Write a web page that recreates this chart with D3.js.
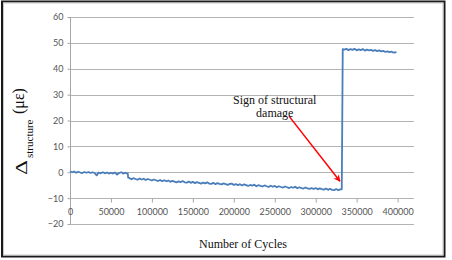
<!DOCTYPE html>
<html><head><meta charset="utf-8">
<script src="https://cdn.jsdelivr.net/npm/d3@7/dist/d3.min.js"></script>
<style>body{margin:0;background:#fff}svg{display:block}</style>
</head><body>
<svg id="c" width="452" height="260"></svg>
<script>
const cycles = [0,2500,5000,7500,10000,12500,15000,17500,20000,22500,25000,27500,30000,32500,35000,37500,40000,42500,45000,47500,50000,52500,55000,57500,60000,62500,65000,67500,70000,70500,71000,
72500,75000,77500,80000,82500,85000,87500,90000,92500,95000,97500,100000,102500,105000,107500,110000,112500,115000,117500,120000,122500,125000,127500,130000,132500,135000,137500,140000,142500,145000,147500,150000,152500,155000,157500,160000,162500,165000,167500,170000,172500,175000,177500,180000,182500,185000,187500,190000,192500,195000,197500,200000,202500,205000,207500,210000,212500,215000,217500,220000,222500,225000,227500,230000,232500,235000,237500,240000,242500,245000,247500,250000,252500,255000,257500,260000,262500,265000,267500,270000,272500,275000,277500,280000,282500,285000,287500,290000,292500,295000,297500,300000,302500,305000,307500,310000,312500,315000,317500,320000,322500,325000,327500,330000,331800,332200,333000,
335000,337500,340000,342500,345000,347500,350000,352500,355000,357500,360000,362500,365000,367500,370000,372500,375000,377500,380000,382500,385000,387500,390000,392500,395000,397500,398500];
const strain = [0.4,0.0,0.3,-0.2,0.2,-0.1,-0.3,0.1,-0.2,0.1,-0.3,0.0,-0.3,-1.2,-0.1,-0.4,0.0,-0.4,-0.1,-0.5,-0.2,-0.5,-0.1,-0.9,-0.3,0.0,-0.5,-0.2,-0.6,-0.4,-2.1,
-2.2,-2.7,-2.3,-2.6,-2.9,-2.4,-2.8,-2.5,-3.0,-2.6,-2.9,-3.2,-2.8,-3.1,-3.4,-3.0,-3.5,-3.1,-3.5,-3.2,-3.7,-3.3,-3.6,-3.9,-3.5,-3.8,-3.4,-3.9,-4.0,-3.6,-4.1,-3.7,-4.2,-3.8,-4.1,-4.4,-4.0,-4.3,-3.9,-4.4,-4.5,-4.1,-4.6,-4.2,-4.5,-4.7,-4.3,-4.6,-4.9,-4.5,-4.4,-4.9,-4.6,-5.0,-4.6,-5.1,-4.7,-5.0,-5.3,-4.9,-5.2,-4.8,-5.4,-5.0,-5.3,-5.5,-5.1,-5.4,-5.7,-5.2,-5.6,-5.3,-5.8,-5.4,-5.7,-5.9,-5.5,-5.8,-6.1,-5.7,-6.0,-5.6,-6.2,-5.8,-6.1,-6.3,-5.9,-6.2,-6.4,-6.1,-6.5,-6.1,-6.6,-6.2,-6.5,-6.7,-6.3,-6.8,-6.4,-6.8,-6.9,-6.5,-6.9,-6.6,-6.6,10.2,47.6,
47.4,47.7,47.2,47.6,47.3,47.7,47.1,47.5,47.2,47.6,47.0,47.4,47.1,47.3,46.9,47.2,46.8,47.1,46.7,46.9,46.5,46.7,46.4,46.6,46.2,46.4,46.2];
const xTicks = [0,50000,100000,150000,200000,250000,300000,350000,400000];
const yTicks = [-20,-10,0,10,20,30,40,50,60];
const noteLines = ["Sign of structural","damage"];
const noteText = [250000, 26.2];
const arrowTail = [267400, 21.7];
const arrowTip = [329600, -3.5];

const svg = d3.select("#c");
const serif = "'Liberation Serif','Times New Roman',serif";
const sans = "Lato, 'Open Sans', sans-serif";
// frame
svg.append("rect").attr("x",2).attr("y",1.5).attr("width",442.5).attr("height",255)
  .attr("fill","#fff").attr("stroke","#1a1a1a").attr("stroke-width",2);
svg.append("rect").attr("x",3.5).attr("y",3).attr("width",439.5).attr("height",252)
  .attr("fill","none").attr("stroke","#c8c8c8").attr("stroke-width",1);

const x = d3.scaleLinear().domain([0,420000]).range([70,414]);
const y = d3.scaleLinear().domain([-20,60]).range([224,17]);

// gridlines
svg.append("g").selectAll("line").data(yTicks).join("line")
  .attr("x1",70).attr("x2",414)
  .attr("y1",d=>Math.round(y(d))+0.5).attr("y2",d=>Math.round(y(d))+0.5)
  .attr("stroke","#b3b3b3").attr("stroke-width",1);

// y axis
const ya = svg.append("g").attr("transform","translate(70.5,0)")
  .call(d3.axisLeft(y).tickValues(yTicks).tickSize(3).tickPadding(4));
ya.select(".domain").attr("stroke","#a6a6a6").attr("d",`M0,${y(60)}V${y(-20)}`);
ya.selectAll(".tick line").attr("stroke","#a6a6a6");
ya.selectAll(".tick text").attr("font-family",sans).attr("font-size",9).attr("fill","#555");

// x axis at -10
const xa = svg.append("g").attr("transform",`translate(0,${Math.round(y(-10))+0.5})`)
  .call(d3.axisBottom(x).tickValues(xTicks).tickFormat(d3.format("d")).tickSize(4).tickPadding(6));
xa.select(".domain").remove();
xa.selectAll(".tick line").attr("stroke","#a6a6a6");
xa.selectAll(".tick text").attr("font-family",sans).attr("font-size",9).attr("fill","#555");

// data line
const pts = cycles.map((c,i)=>[c,strain[i]]);
svg.append("path").datum(pts)
  .attr("fill","none").attr("stroke","#4a7ebb").attr("stroke-width",1.8).attr("stroke-linejoin","round")
  .attr("d", d3.line().x(d=>x(d[0])).y(d=>y(d[1])));

// annotation
svg.append("defs").append("marker").attr("id","ah").attr("viewBox","0 0 10 10")
  .attr("refX",9).attr("refY",5).attr("markerWidth",7).attr("markerHeight",7)
  .attr("markerUnits","userSpaceOnUse").attr("orient","auto")
  .append("path").attr("d","M0,0L10,5L0,10L3,5Z").attr("fill","#ff0000");
svg.append("line")
  .attr("x1",x(arrowTail[0])).attr("y1",y(arrowTail[1]))
  .attr("x2",x(arrowTip[0])).attr("y2",y(arrowTip[1]))
  .attr("stroke","#ff0000").attr("stroke-width",1.5).attr("marker-end","url(#ah)");
const nt = svg.append("text").attr("font-family",serif)
  .attr("font-size",12).attr("fill","#111").attr("text-anchor","middle");
noteLines.forEach((l,i)=>nt.append("tspan").attr("x",x(noteText[0])).attr("y",y(noteText[1])+i*13).text(l));

// axis titles
svg.append("text").attr("x",243).attr("y",248).attr("text-anchor","middle")
  .attr("font-family",serif).attr("font-size",12).attr("fill","#111")
  .text("Number of Cycles");
svg.append("text").attr("transform","translate(27,175) rotate(-90)")
  .attr("font-family",serif).attr("font-size",16).attr("fill","#111")
  .attr("textLength",15).attr("lengthAdjust","spacingAndGlyphs").text("Δ");
svg.append("text").attr("transform","translate(33,158) rotate(-90)")
  .attr("font-family",serif).attr("font-size",11).attr("fill","#111").text("structure");
svg.append("text").attr("transform","translate(23.5,114) rotate(-90)")
  .attr("font-family",serif).attr("font-size",16).attr("fill","#111").text("(με)");
</script>
</body></html>
